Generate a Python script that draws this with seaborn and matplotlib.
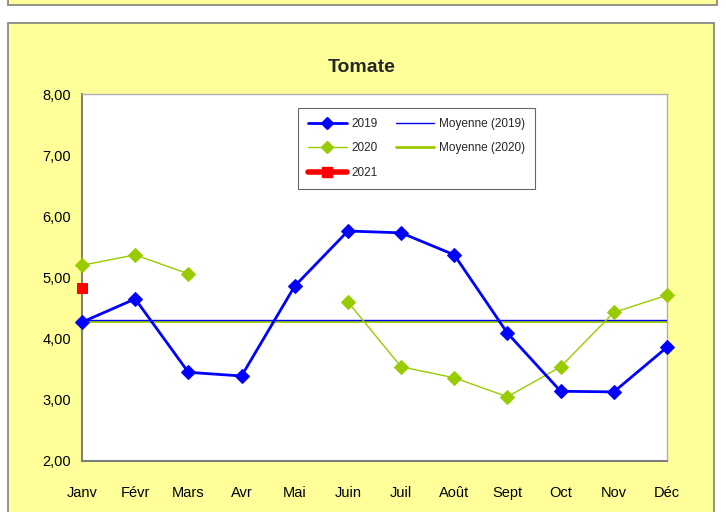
import numpy as np
import pandas as pd
import seaborn as sns
import matplotlib.pyplot as plt
from matplotlib.lines import Line2D
from matplotlib.patches import Rectangle
from matplotlib.ticker import FuncFormatter

# prix mensuels
mois = ['Janv', 'Févr', 'Mars', 'Avr', 'Mai', 'Juin', 'Juil', 'Août', 'Sept', 'Oct', 'Nov', 'Déc']
prix_2019 = [4.27, 4.65, 3.45, 3.39, 4.86, 5.76, 5.73, 5.37, 4.09, 3.14, 3.13, 3.86]
prix_2020 = [5.20, 5.37, 5.06, np.nan, np.nan, 4.60, 3.54, 3.36, 3.05, 3.54, 4.43, 4.71]
prix_2021 = [4.83, np.nan, np.nan, np.nan, np.nan, np.nan, np.nan, np.nan, np.nan, np.nan, np.nan, np.nan]

bleu = '#0000FF'
vert = '#99CC00'
rouge = '#FF0000'
jaune = '#FFFF99'

sns.set_style('white')
plt.rcParams['font.family'] = ['Liberation Sans', 'DejaVu Sans']

df = pd.DataFrame({'x': np.arange(len(mois)), 'p2019': prix_2019,
                   'p2020': prix_2020, 'p2021': prix_2021})
# segments pour garder le trou Avr-Mai en 2020
df['seg'] = df['p2020'].isna().cumsum()

fig = plt.figure(figsize=(7.26, 5.12), dpi=100)
fig.patch.set_facecolor('white')
W, H = 726, 512
fig.patches.append(Rectangle((8 / W, 1 - 5 / H), 709 / W, 20 / H, transform=fig.transFigure,
                             facecolor=jaune, edgecolor='#808080', lw=1.2, zorder=-10))
fig.patches.append(Rectangle((8 / W, -0.05), 706 / W, 1 - 23 / H + 0.05, transform=fig.transFigure,
                             facecolor=jaune, edgecolor='#808080', lw=1.2, zorder=-10))

ax = fig.add_axes([82 / W, 1 - 461 / H, 585 / W, 367 / H])
ax.set_facecolor('white')

m2019 = np.nanmean(prix_2019)
m2020 = np.nanmean(prix_2020)
ax.axhline(m2020, color=vert, lw=2, zorder=2)
ax.axhline(m2019, color=bleu, lw=1, zorder=3)

d20 = df.dropna(subset=['p2020'])
sns.lineplot(data=d20, x='x', y='p2020', units='seg', estimator=None, color=vert, lw=1,
             marker='D', markersize=7.5, markeredgecolor=vert, ax=ax, clip_on=False, zorder=4)
sns.lineplot(data=df, x='x', y='p2019', color=bleu, lw=2, marker='D', markersize=7.5,
             markeredgecolor=bleu, ax=ax, clip_on=False, zorder=5)
d21 = df.dropna(subset=['p2021'])
sns.lineplot(data=d21, x='x', y='p2021', color=rouge, lw=4, marker='s', markersize=7.5,
             markeredgecolor=rouge, ax=ax, clip_on=False, zorder=6)

ax.set_xlim(0, 11)
ax.set_ylim(2, 8)
ax.set_xticks(df['x'])
ax.set_xticklabels(mois)
ax.set_yticks(np.arange(2, 9))
ax.yaxis.set_major_formatter(FuncFormatter(lambda v, p: f'{v:.2f}'.replace('.', ',')))
ax.set_xlabel('')
ax.set_ylabel('')
ax.tick_params(axis='both', direction='out', length=5, width=1, color='#808080',
               labelsize=10.5, colors='black')
ax.tick_params(axis='x', pad=13)
ax.tick_params(axis='y', pad=3)
for s in ['left', 'bottom']:
    ax.spines[s].set_color('#808080')
    ax.spines[s].set_linewidth(1.5)
for s in ['top', 'right']:
    ax.spines[s].set_color('#B0B0B0')
    ax.spines[s].set_linewidth(1)

fig.text(362 / W, 1 - 68 / H, 'Tomate', ha='center', va='center', fontsize=14, fontweight='bold')

handles = [
    Line2D([], [], color=bleu, lw=2, marker='D', markersize=6),
    Line2D([], [], color=vert, lw=1, marker='D', markersize=6),
    Line2D([], [], color=rouge, lw=4, marker='s', markersize=7),
    Line2D([], [], color=bleu, lw=1),
    Line2D([], [], color=vert, lw=2),
]
labels = ['2019', '2020', '2021', 'Moyenne (2019)', 'Moyenne (2020)']
leg = ax.legend(handles, labels, ncol=2, loc='upper left', bbox_to_anchor=(0.369, 0.962),
                fontsize=8.5, frameon=True, fancybox=False, edgecolor='#404040',
                handlelength=3.3, handletextpad=0.4, columnspacing=1.5, labelspacing=1.05,
                borderpad=0.85, borderaxespad=0)
leg.get_frame().set_linewidth(0.8)

fig.savefig('out.png', dpi=100, facecolor=fig.get_facecolor())
